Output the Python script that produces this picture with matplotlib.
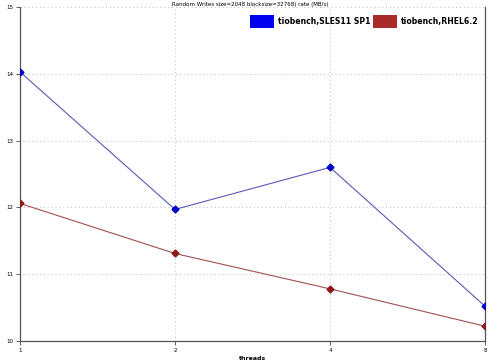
import matplotlib
matplotlib.use("Agg")
import matplotlib.pyplot as plt
from matplotlib.patches import Patch

threads = ["1", "2", "4", "8"]
sles = [14.03, 11.97, 12.60, 10.52]
rhel = [12.06, 11.31, 10.78, 10.22]
title = "Random Writes size=2048 blocksize=32768) rate (MB/s)"

fig = plt.figure(figsize=(5, 3.6), dpi=100)
ax = fig.add_axes([0.04, 0.053, 0.93, 0.927])
x = list(range(len(threads)))
ax.plot(x, sles, color="#5a5ab4", lw=0.8, marker="D", ms=3.5,
        mfc="#0000cc", mec="#0000cc", zorder=3)
ax.plot(x, rhel, color="#a05050", lw=0.8, marker="D", ms=3.5,
        mfc="#8b1a1a", mec="#8b1a1a", zorder=3)
ax.set_xlim(0, 3)
ax.set_ylim(10, 15)
ax.set_xticks(x)
ax.set_xticklabels(threads)
ax.set_yticks([10, 11, 12, 13, 14, 15])
ax.tick_params(labelsize=4, length=3, width=0.6, color="#444444", pad=2)
ax.grid(True, linestyle=(0, (1, 3)), color="#bbbbbb", lw=0.7)
for s in ["left", "bottom", "right"]:
    ax.spines[s].set_color("#555555")
    ax.spines[s].set_linewidth(0.9)
ax.spines["top"].set_visible(False)
ax.set_xlabel("threads", fontsize=4.5, fontweight="bold", labelpad=2)
fig.text(0.5, 0.995, title, fontsize=4, ha="center", va="top")
handles = [Patch(facecolor="#0000ee", edgecolor="none"),
           Patch(facecolor="#aa2a2a", edgecolor="none")]
leg = ax.legend(handles, ["tiobench,SLES11 SP1", "tiobench,RHEL6.2"],
                loc="upper right", ncol=2, frameon=False,
                prop={"size": 5.6, "weight": "bold"},
                handlelength=3.1, handleheight=2.2, handletextpad=0.5,
                columnspacing=0.3, borderaxespad=0.4,
                bbox_to_anchor=(1.0, 0.995))
fig.savefig("out.png", dpi=100)
